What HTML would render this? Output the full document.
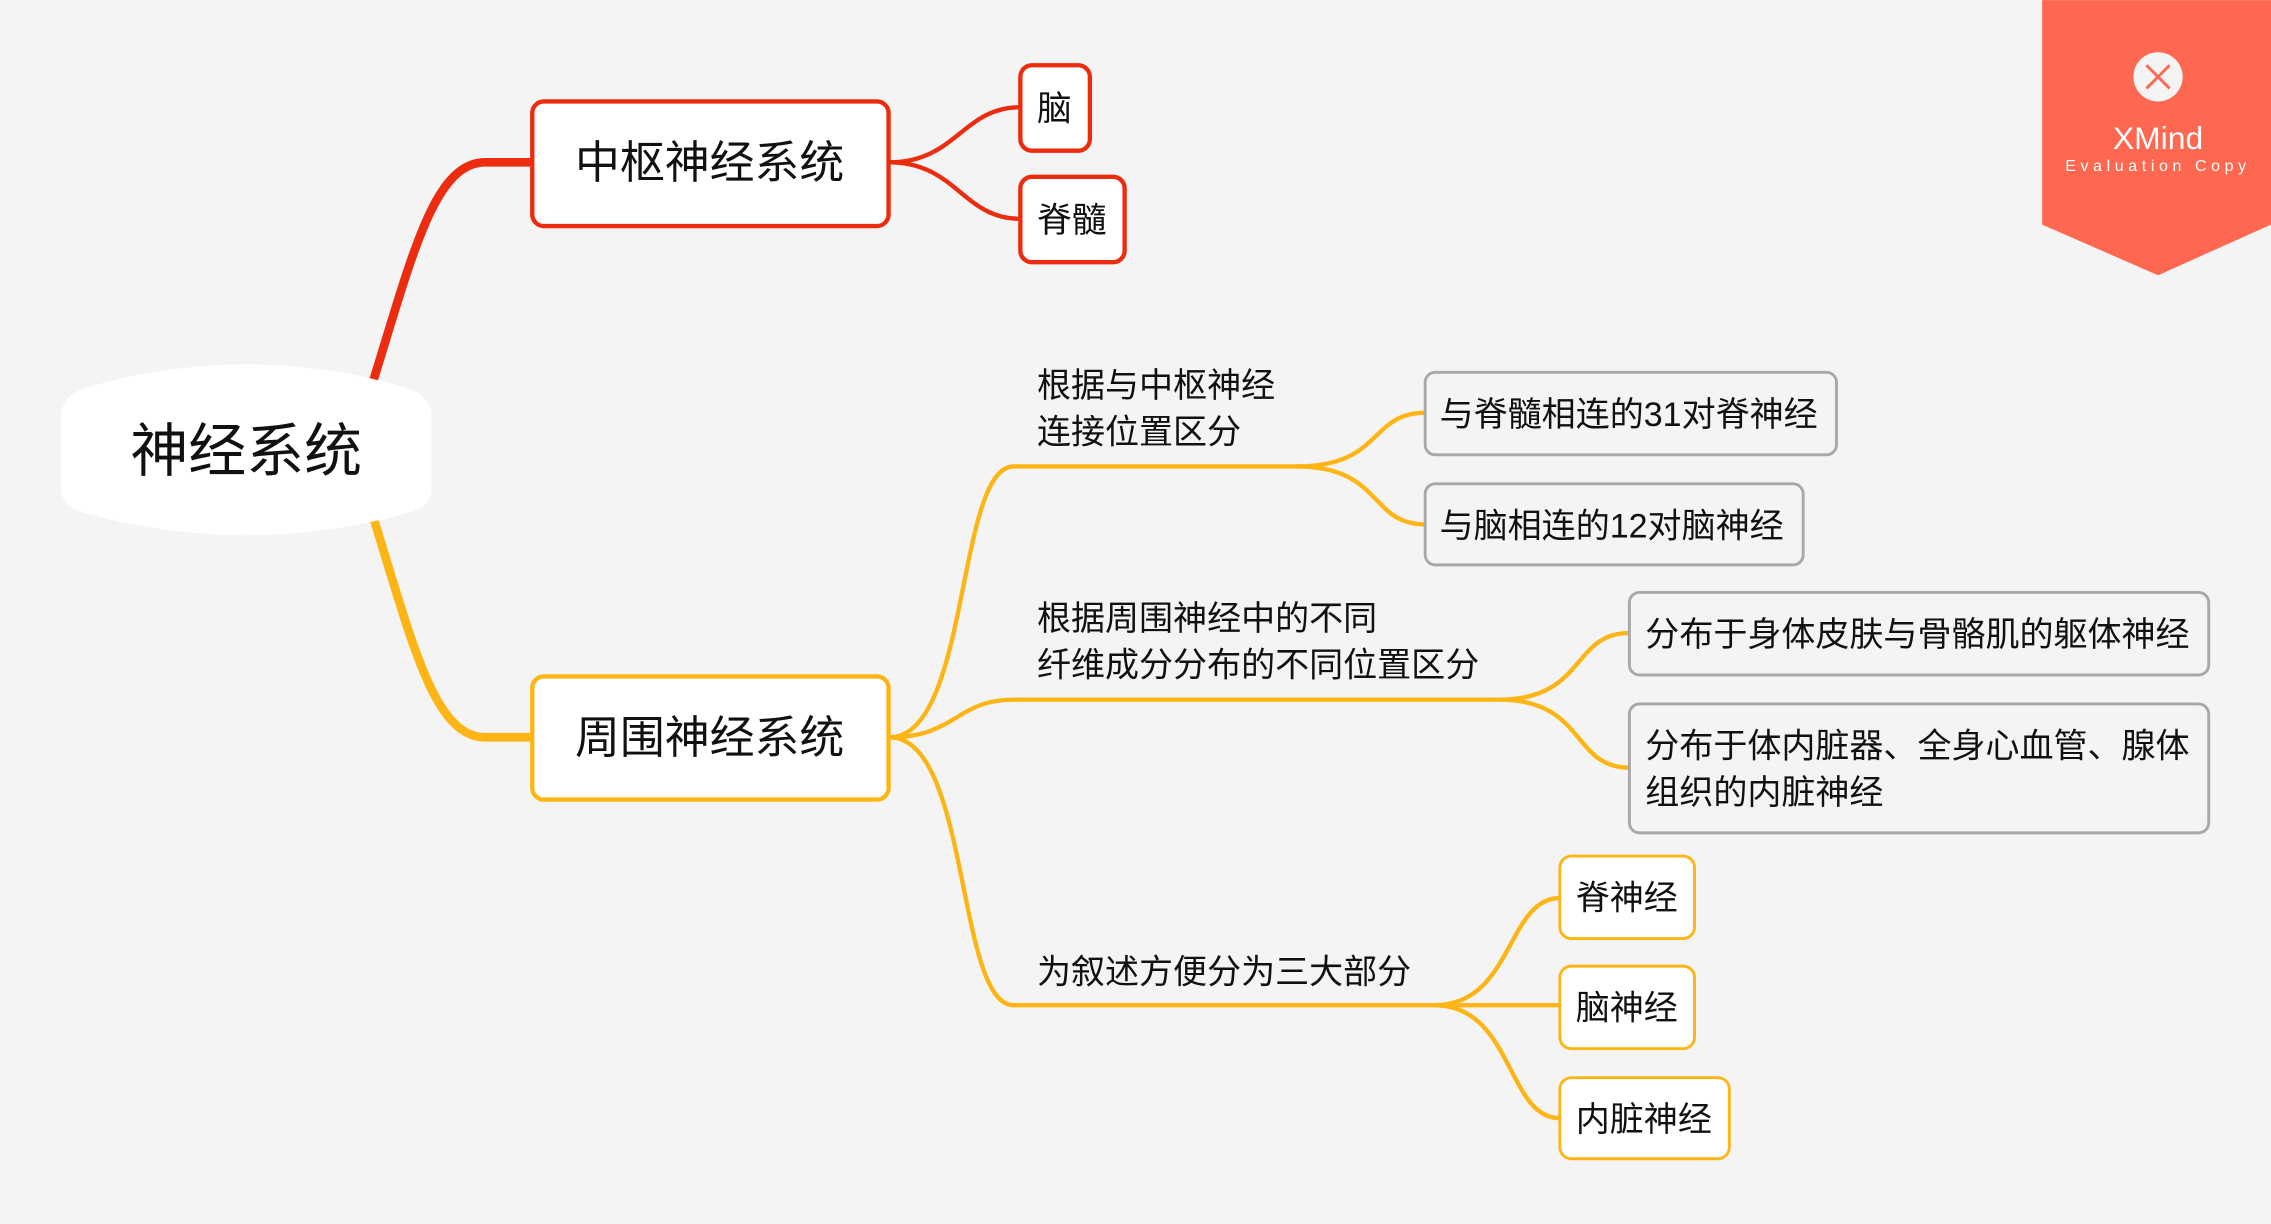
<!DOCTYPE html>
<html><head><meta charset="utf-8"><style>
html,body{margin:0;padding:0;background:#f4f4f4;}
svg{display:block;}
text{font-family:"Liberation Sans","Noto Sans CJK SC",sans-serif;fill:#111;}
</style></head><body>
<svg width="2271" height="1224" viewBox="0 0 1568 845" xmlns="http://www.w3.org/2000/svg">
<rect width="1568" height="845" fill="#f4f4f4"/>
<path d="M258,262 C285,175 300,112 335,112 L367,112" fill="none" stroke="#ec2c0e" stroke-width="6"/>
<path d="M258,358 C285,445 300,509 335,509 L367,509" fill="none" stroke="#fdb515" stroke-width="6"/>
<path d="M58,268 Q170,235 282,268 Q298,274 298,288 L298,336 Q298,350 282,354 Q170,385 58,354 Q42,350 42,336 L42,288 Q42,274 58,268 Z" fill="#fff"/>
<text x="170" y="325" font-size="40" text-anchor="middle">神经系统</text>
<rect x="367.5" y="70" width="246" height="86" rx="8" fill="#fff" stroke="#ec2c0e" stroke-width="3"/>
<text x="490" y="123" font-size="31" text-anchor="middle">中枢神经系统</text>
<path d="M614,112 C660,112 665,74 704,74" fill="none" stroke="#ec2c0e" stroke-width="3"/>
<path d="M614,112 C660,112 665,151 704,151" fill="none" stroke="#ec2c0e" stroke-width="3"/>
<rect x="704.5" y="45" width="48" height="59" rx="8" fill="#fff" stroke="#ec2c0e" stroke-width="3"/>
<text x="728" y="83" font-size="24" text-anchor="middle">脑</text>
<rect x="704.5" y="122" width="72" height="59" rx="8" fill="#fff" stroke="#ec2c0e" stroke-width="3"/>
<text x="740" y="160" font-size="24" text-anchor="middle">脊髓</text>
<rect x="367.5" y="467" width="246" height="85" rx="8" fill="#fff" stroke="#fdb515" stroke-width="3"/>
<text x="490" y="520" font-size="31" text-anchor="middle">周围神经系统</text>
<g fill="none" stroke="#fdb515" stroke-width="3">
<path d="M614,509 C670,509 660,322 700,322 L905,322"/>
<path d="M614,509 C660,509 660,483 700,483 L1045,483"/>
<path d="M614,509 C670,509 660,694 700,694 L1000,694"/>
<path d="M895,322 C955,322 945,285 984,285"/>
<path d="M895,322 C955,322 945,362 984,362"/>
<path d="M1035,483 C1095,483 1085,437 1125,437"/>
<path d="M1035,483 C1095,483 1085,530 1125,530"/>
<path d="M990,694 C1045,694 1040,620 1077,620"/>
<path d="M990,694 L1077,694"/>
<path d="M990,694 C1045,694 1040,772 1077,772"/>
</g>
<text x="716" y="274" font-size="23.5">根据与中枢神经</text>
<text x="716" y="306" font-size="23.5">连接位置区分</text>
<text x="716" y="435" font-size="23.5">根据周围神经中的不同</text>
<text x="716" y="467" font-size="23.5">纤维成分分布的不同位置区分</text>
<text x="716" y="679" font-size="23.5">为叙述方便分为三大部分</text>
<g fill="#f4f4f4" stroke="#a8a8a8" stroke-width="2">
<rect x="984" y="257" width="284" height="57" rx="7"/>
<rect x="984" y="334" width="261" height="56" rx="7"/>
<rect x="1125" y="409" width="400" height="57" rx="7"/>
<rect x="1125" y="486" width="400" height="89" rx="7"/>
</g>
<text x="994" y="294" font-size="23.5">与脊髓相连的31对脊神经</text>
<text x="994" y="371" font-size="23.5">与脑相连的12对脑神经</text>
<text x="1136" y="446" font-size="23.5">分布于身体皮肤与骨骼肌的躯体神经</text>
<text x="1136" y="523" font-size="23.5">分布于体内脏器、全身心血管、腺体</text>
<text x="1136" y="555" font-size="23.5">组织的内脏神经</text>
<g fill="#fff" stroke="#fdb515" stroke-width="2">
<rect x="1077" y="591" width="93" height="57" rx="8"/>
<rect x="1077" y="667" width="93" height="57" rx="8"/>
<rect x="1077" y="744" width="117" height="56" rx="8"/>
</g>
<text x="1088" y="628" font-size="23.5">脊神经</text>
<text x="1088" y="704" font-size="23.5">脑神经</text>
<text x="1088" y="781" font-size="23.5">内脏神经</text>
<polygon points="1410,0 1568,0 1568,155 1490,190 1410,155" fill="#fe6750"/>
<circle cx="1490" cy="53" r="17" fill="#f4f4f4"/>
<path d="M1482,45 L1490,53 L1498,45 M1482,61 L1490,53 L1498,61" stroke="#fe6750" stroke-width="2" fill="none"/>
<text x="1490" y="103" font-size="22" text-anchor="middle" font-weight="300" style="fill:#fff">XMind</text>
<text x="1490" y="118" font-size="11" text-anchor="middle" letter-spacing="3.2" style="fill:#fff">Evaluation Copy</text>
</svg>
</body></html>
